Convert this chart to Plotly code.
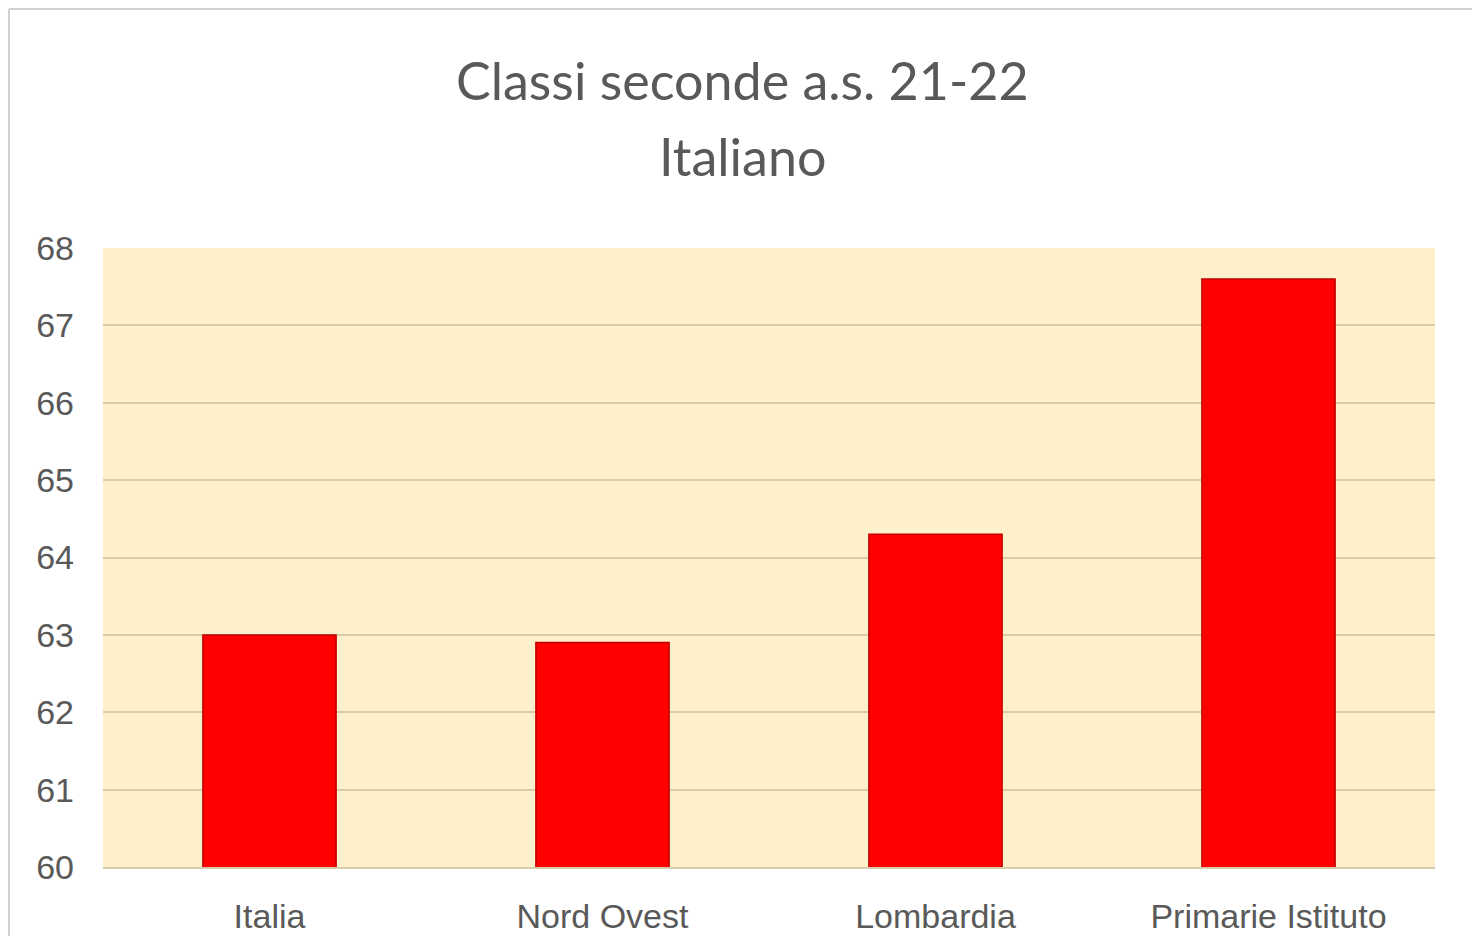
import plotly.graph_objects as go

categories = ["Italia", "Nord Ovest", "Lombardia", "Primarie Istituto"]
values = [63.0, 62.9, 64.3, 67.6]
y_ticks = [60, 61, 62, 63, 64, 65, 66, 67, 68]
title_lines = ["Classi seconde a.s. 21-22", "Italiano"]

W, H = 1472, 928          # page body has an 8px margin
ML, MR, MT, MB = 95, 45, 240, 69
PW = W - ML - MR
PH = H - MT - MB

fig = go.Figure()
fig.add_trace(go.Bar(
    x=categories,
    y=values,
    marker=dict(color="#FF0000", line=dict(color="#C00000", width=1.5)),
    showlegend=False,
))

fig.update_layout(
    width=W,
    height=H,
    margin=dict(l=ML, r=MR, t=MT, b=MB, autoexpand=False),
    paper_bgcolor="white",
    plot_bgcolor="#FFF0CC",
    bargap=0.6,
    font=dict(family="Liberation Sans, Arial", size=34, color="#595959"),
)

# two title lines as separate annotations (to control the line spacing)
title_cx = (734.5 - ML) / PW
for line, yfig in zip(title_lines, [72, 148]):
    fig.add_annotation(
        text=line, xref="paper", yref="paper",
        x=title_cx, xanchor="center",
        y=1 + (MT - yfig) / PH, yanchor="middle",
        showarrow=False,
        font=dict(family="Lato, Liberation Sans, Arial", size=52, color="#595959"),
    )

fig.update_yaxes(
    range=[60, 68],
    tickvals=y_ticks,
    showgrid=True,
    gridcolor="#D8CCAA",
    gridwidth=1.5,
    zeroline=False,
    showline=False,
    automargin=False,
    ticklabelstandoff=28,
    tickfont=dict(size=34, color="#595959"),
)
fig.update_xaxes(
    showgrid=False,
    showline=True,
    linecolor="#D8CCAA",
    linewidth=1.5,
    automargin=False,
    ticklabelstandoff=18,
    tickfont=dict(size=34, color="#595959"),
)

# outer frame remnants (left and top border lines)
fx = (1 - ML) / PW
fy = 1 + (MT - 1) / PH
fig.add_shape(type="line", xref="paper", yref="paper",
              x0=fx, x1=fx, y0=-1, y1=fy,
              line=dict(color="#D0D0D0", width=2))
fig.add_shape(type="line", xref="paper", yref="paper",
              x0=fx, x1=1.2, y0=fy, y1=fy,
              line=dict(color="#D0D0D0", width=2))

fig.write_html("out.html")
